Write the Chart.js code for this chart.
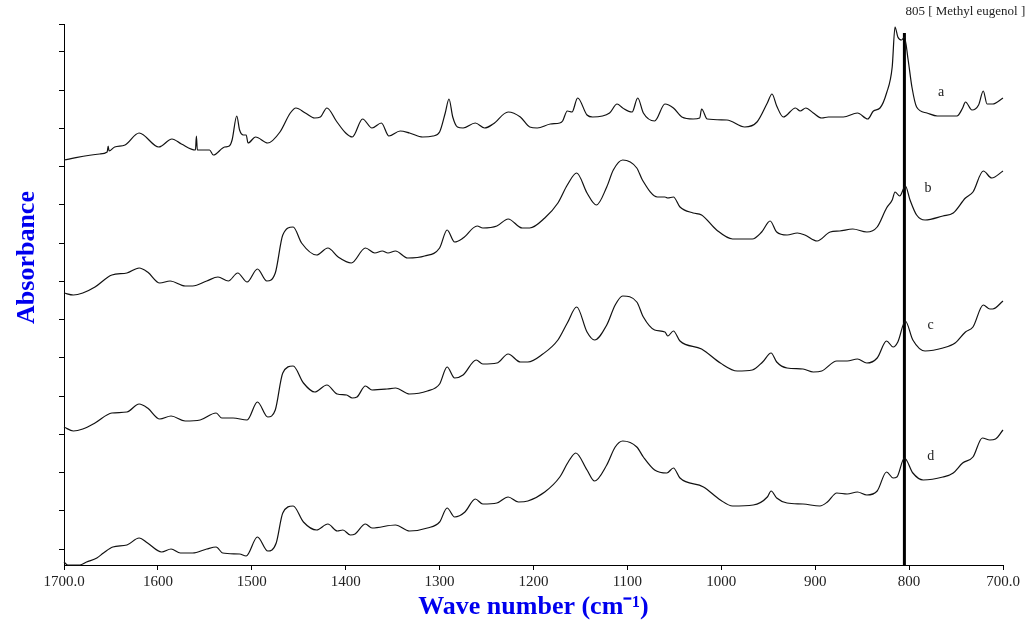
<!DOCTYPE html>
<html>
<head>
<meta charset="utf-8">
<title>FTIR spectra - methyl eugenol</title>
<script src="https://cdn.jsdelivr.net/npm/chart.js@4.4.1/dist/chart.umd.min.js"></script>
<style>
    html, body { margin: 0; padding: 0; background: #fff; }
    #wrap { width: 1034px; height: 624px; }
</style>
</head>
<body>
<div id="wrap"><canvas id="spectra" width="1034" height="624"></canvas></div>
<script>
// Spectrum a (top)
const waveA = [1700, 1662, 1654, 1653, 1652, 1646, 1635, 1620, 1599, 1585, 1575, 1560, 1559, 1558, 1545, 1541, 1529, 1524, 1521, 1516, 1513, 1509, 1506, 1504, 1496, 1483, 1470, 1459, 1453, 1443, 1433, 1427, 1420, 1410, 1400, 1393, 1382, 1372, 1362, 1354, 1342, 1332, 1318, 1307, 1300, 1294, 1290, 1286, 1281, 1275, 1262, 1252, 1243, 1227, 1214, 1204, 1196, 1182, 1172, 1169, 1164, 1159, 1153, 1143, 1137, 1119, 1111, 1105, 1095, 1089, 1083, 1071, 1060, 1051, 1042, 1030, 1023, 1021, 1015, 994, 975, 962, 951, 946, 941, 934, 921, 916, 910, 902, 893, 886, 870, 855, 844, 838, 831, 824, 818, 815, 812, 808, 805, 801, 797, 792, 781, 770, 749, 743, 740, 733, 726, 721, 717, 711, 700];
const absA = [0.810, 0.822, 0.826, 0.838, 0.828, 0.836, 0.840, 0.864, 0.836, 0.852, 0.842, 0.830, 0.858, 0.830, 0.830, 0.820, 0.836, 0.838, 0.850, 0.898, 0.870, 0.860, 0.860, 0.844, 0.856, 0.844, 0.866, 0.904, 0.914, 0.904, 0.894, 0.896, 0.914, 0.888, 0.864, 0.856, 0.892, 0.874, 0.884, 0.858, 0.868, 0.864, 0.856, 0.858, 0.866, 0.904, 0.932, 0.896, 0.876, 0.874, 0.884, 0.874, 0.882, 0.906, 0.896, 0.876, 0.874, 0.882, 0.884, 0.888, 0.908, 0.906, 0.934, 0.900, 0.896, 0.904, 0.922, 0.914, 0.906, 0.934, 0.904, 0.888, 0.922, 0.914, 0.896, 0.892, 0.894, 0.912, 0.892, 0.890, 0.876, 0.886, 0.924, 0.942, 0.918, 0.896, 0.914, 0.908, 0.914, 0.904, 0.894, 0.896, 0.896, 0.904, 0.892, 0.908, 0.914, 0.944, 0.996, 1.076, 1.056, 1.050, 1.056, 1.010, 0.956, 0.916, 0.904, 0.898, 0.898, 0.914, 0.926, 0.910, 0.920, 0.948, 0.922, 0.922, 0.934];

// Spectrum b
const waveB = [1700, 1690, 1680, 1667, 1649, 1633, 1620, 1611, 1598, 1587, 1571, 1563, 1548, 1536, 1525, 1515, 1505, 1494, 1484, 1475, 1467, 1456, 1447, 1431, 1419, 1408, 1394, 1379, 1369, 1361, 1355, 1347, 1334, 1316, 1300, 1292, 1284, 1275, 1260, 1254, 1239, 1227, 1212, 1204, 1188, 1174, 1164, 1154, 1143, 1133, 1122, 1115, 1105, 1090, 1084, 1068, 1060, 1057, 1051, 1044, 1030, 1021, 1005, 988, 967, 957, 948, 941, 930, 919, 911, 898, 884, 874, 860, 845, 834, 824, 818, 815, 810, 804, 799, 792, 783, 764, 753, 740, 732, 721, 712, 700];
const absB = [0.544, 0.540, 0.544, 0.556, 0.580, 0.584, 0.594, 0.586, 0.564, 0.568, 0.558, 0.558, 0.568, 0.576, 0.568, 0.584, 0.566, 0.592, 0.568, 0.584, 0.660, 0.676, 0.644, 0.620, 0.634, 0.616, 0.604, 0.634, 0.624, 0.628, 0.624, 0.628, 0.614, 0.618, 0.634, 0.670, 0.646, 0.654, 0.678, 0.674, 0.678, 0.692, 0.674, 0.674, 0.694, 0.724, 0.760, 0.784, 0.744, 0.720, 0.756, 0.790, 0.810, 0.794, 0.770, 0.736, 0.736, 0.734, 0.736, 0.716, 0.704, 0.700, 0.670, 0.652, 0.652, 0.666, 0.688, 0.666, 0.660, 0.664, 0.660, 0.648, 0.666, 0.668, 0.672, 0.666, 0.676, 0.714, 0.730, 0.746, 0.738, 0.758, 0.730, 0.700, 0.690, 0.698, 0.704, 0.734, 0.746, 0.788, 0.774, 0.788];

// Spectrum c
const waveC = [1700, 1690, 1680, 1667, 1649, 1633, 1620, 1611, 1598, 1586, 1571, 1555, 1538, 1532, 1520, 1505, 1494, 1483, 1475, 1467, 1456, 1445, 1433, 1420, 1409, 1399, 1393, 1388, 1379, 1372, 1356, 1347, 1332, 1313, 1300, 1292, 1284, 1275, 1261, 1254, 1239, 1227, 1214, 1206, 1190, 1174, 1164, 1154, 1143, 1135, 1122, 1113, 1105, 1090, 1083, 1071, 1060, 1057, 1051, 1044, 1021, 1001, 983, 967, 956, 947, 941, 930, 913, 902, 893, 877, 866, 855, 845, 834, 824, 817, 812, 804, 796, 783, 764, 751, 740, 732, 721, 714, 711, 700];
const absC = [0.276, 0.268, 0.272, 0.284, 0.304, 0.306, 0.322, 0.314, 0.292, 0.298, 0.288, 0.290, 0.304, 0.294, 0.294, 0.290, 0.326, 0.296, 0.310, 0.384, 0.398, 0.364, 0.346, 0.360, 0.342, 0.340, 0.334, 0.336, 0.358, 0.350, 0.352, 0.354, 0.342, 0.348, 0.362, 0.396, 0.374, 0.380, 0.410, 0.402, 0.404, 0.422, 0.406, 0.406, 0.422, 0.450, 0.484, 0.516, 0.466, 0.450, 0.480, 0.520, 0.538, 0.526, 0.496, 0.470, 0.466, 0.458, 0.468, 0.448, 0.432, 0.404, 0.388, 0.390, 0.406, 0.424, 0.406, 0.394, 0.392, 0.386, 0.388, 0.408, 0.408, 0.412, 0.404, 0.414, 0.448, 0.436, 0.446, 0.488, 0.450, 0.428, 0.434, 0.444, 0.466, 0.476, 0.520, 0.512, 0.512, 0.528];

// Spectrum d (bottom)
const waveD = [1700, 1696, 1683, 1676, 1665, 1658, 1648, 1633, 1620, 1611, 1596, 1586, 1576, 1563, 1548, 1538, 1531, 1513, 1506, 1494, 1483, 1474, 1467, 1456, 1445, 1431, 1419, 1409, 1403, 1395, 1390, 1379, 1372, 1347, 1332, 1313, 1300, 1292, 1284, 1273, 1262, 1254, 1239, 1227, 1216, 1206, 1188, 1172, 1163, 1155, 1143, 1135, 1122, 1113, 1105, 1090, 1083, 1071, 1058, 1051, 1044, 1019, 1001, 988, 966, 951, 947, 941, 930, 913, 895, 887, 877, 866, 855, 845, 834, 824, 817, 813, 805, 796, 785, 764, 753, 743, 732, 722, 714, 708, 700];
const absD = [0.006, 0.000, 0.000, 0.006, 0.014, 0.024, 0.036, 0.040, 0.054, 0.044, 0.026, 0.032, 0.024, 0.024, 0.032, 0.036, 0.024, 0.022, 0.018, 0.056, 0.028, 0.044, 0.104, 0.118, 0.086, 0.070, 0.082, 0.068, 0.070, 0.060, 0.062, 0.082, 0.074, 0.080, 0.068, 0.074, 0.086, 0.114, 0.096, 0.106, 0.132, 0.122, 0.124, 0.136, 0.126, 0.128, 0.146, 0.176, 0.206, 0.224, 0.190, 0.168, 0.200, 0.236, 0.248, 0.236, 0.216, 0.190, 0.184, 0.194, 0.174, 0.156, 0.130, 0.118, 0.120, 0.136, 0.148, 0.134, 0.124, 0.122, 0.118, 0.126, 0.144, 0.142, 0.146, 0.140, 0.148, 0.186, 0.174, 0.176, 0.214, 0.184, 0.170, 0.176, 0.184, 0.204, 0.216, 0.254, 0.250, 0.252, 0.270];

// Marker line for methyl eugenol band and curve labels
const markerWave = 805;
const markerTop = 1.064;
const markerText = '805 [ Methyl eugenol ]';
const curveNames = ['a', 'b', 'c', 'd'];
const curveNameWave = [766, 780, 777, 777];
const curveNameAbs = [0.946, 0.754, 0.480, 0.218];

// x tick values (wave number) and y range
const xMin = 700, xMax = 1700, xStep = 100;
const yMin = 0, yMax = 1.082;
const yTickFirst = 0.032, yTickStep = 0.0765, yTickCount = 14;

const serif = '"Liberation Serif", "Times New Roman", serif';

function toPoints(xs, ys) {
    return xs.map((x, i) => ({ x: x, y: ys[i] }));
}

function spectrum(xs, ys) {
    return {
        data: toPoints(xs, ys),
        borderColor: '#111',
        borderWidth: 1.2,
        pointRadius: 0,
        cubicInterpolationMode: 'monotone',
        clip: 4
    };
}

// text on top of the plot: axis title on the left, marker caption, curve letters
const textPlugin = {
    id: 'spectraText',
    afterDraw(chart) {
        const ctx = chart.ctx;
        const xs = chart.scales.x, ys = chart.scales.y;
        const area = chart.chartArea;
        ctx.save();
        ctx.fillStyle = '#0000ee';
        ctx.font = 'bold 26px ' + serif;
        ctx.textAlign = 'center';
        ctx.textBaseline = 'middle';
        ctx.translate(area.left - 37, (area.top + area.bottom) / 2 - 37);
        ctx.rotate(-Math.PI / 2);
        ctx.fillText('Absorbance', 0, 0);
        ctx.restore();

        ctx.save();
        ctx.fillStyle = '#222';
        ctx.font = '13px ' + serif;
        ctx.textAlign = 'left';
        ctx.textBaseline = 'middle';
        ctx.fillText(markerText, xs.getPixelForValue(markerWave) + 1, ys.getPixelForValue(1.106));
        ctx.font = '14px ' + serif;
        ctx.textAlign = 'center';
        curveNames.forEach((name, i) => {
            ctx.fillText(name, xs.getPixelForValue(curveNameWave[i]), ys.getPixelForValue(curveNameAbs[i]));
        });
        ctx.restore();
    }
};

const ctx = document.getElementById('spectra').getContext('2d');
new Chart(ctx, {
    type: 'line',
    data: {
        datasets: [
            spectrum(waveA, absA),
            spectrum(waveB, absB),
            spectrum(waveC, absC),
            spectrum(waveD, absD),
            {
                data: [{ x: markerWave, y: 0 }, { x: markerWave, y: markerTop }],
                borderColor: '#000',
                borderWidth: 3,
                pointRadius: 0,
                clip: false
            }
        ]
    },
    options: {
        responsive: false,
        animation: false,
        layout: { padding: { left: 0, right: 31, top: 24, bottom: 0 } },
        plugins: {
            legend: { display: false },
            tooltip: { enabled: false }
        },
        scales: {
            x: {
                type: 'linear',
                reverse: true,
                min: xMin,
                max: xMax,
                afterFit: s => { s.height = 59; },
                border: { display: true, color: '#000', width: 1 },
                grid: { drawOnChartArea: false, drawTicks: true, tickLength: 5, color: '#000' },
                ticks: {
                    stepSize: xStep,
                    color: '#222',
                    padding: 3,
                    maxRotation: 0,
                    font: { family: serif, size: 15 },
                    callback: v => (v === xMin || v === xMax) ? v.toFixed(1) : String(v)
                },
                title: {
                    display: true,
                    text: 'Wave number (cm\u207B\u00B9)',
                    color: '#0000ee',
                    font: { family: serif, size: 26, weight: 'bold' },
                    padding: { top: 0, bottom: 1 }
                }
            },
            y: {
                type: 'linear',
                min: yMin,
                max: yMax,
                afterFit: s => { s.width = 64; },
                afterBuildTicks: s => {
                    const t = [];
                    for (let k = 0; k < yTickCount; k++) t.push({ value: yTickFirst + k * yTickStep });
                    t.push({ value: yMax });
                    s.ticks = t;
                },
                border: { display: true, color: '#000', width: 1 },
                grid: { drawOnChartArea: false, drawTicks: true, tickLength: 5, color: '#000' },
                ticks: { display: false }
            }
        }
    },
    plugins: [textPlugin]
});
</script>
</body>
</html>
